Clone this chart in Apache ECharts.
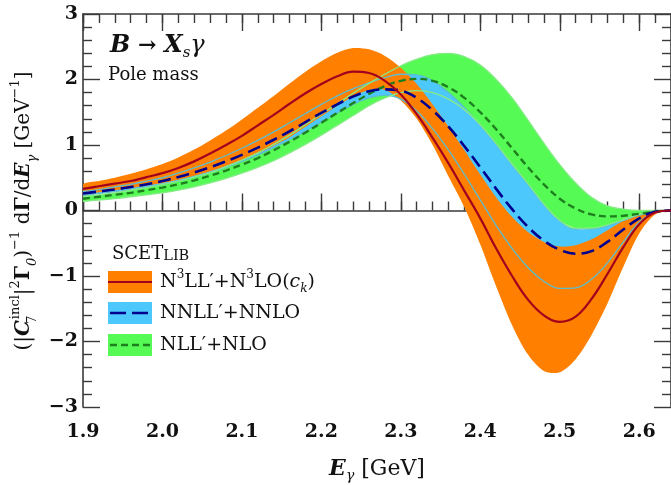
<!DOCTYPE html>
<html>
<head>
<meta charset="utf-8">
<script src="https://cdn.jsdelivr.net/npm/echarts@6/dist/echarts.min.js"></script>
<style>html,body{margin:0;padding:0;background:#fff}#c{width:671px;height:485px}</style>
</head>
<body>
<div id="c"></div>
<script>
// Photon energy grid [GeV]
const xValues = [1.90,1.92,1.94,1.96,1.98,2.00,2.02,2.04,2.06,2.08,2.10,2.12,2.14,2.16,2.18,2.20,2.22,2.24,2.26,2.28,2.30,2.32,2.34,2.36,2.38,2.40,2.42,2.44,2.46,2.48,2.50,2.52,2.54,2.56,2.58,2.60,2.62,2.64];

// N3LL'+N3LO(ck)
const n3llCentral = [0.33,0.37,0.41,0.45,0.51,0.57,0.65,0.75,0.87,1.00,1.14,1.30,1.46,1.63,1.79,1.93,2.05,2.12,2.10,1.98,1.77,1.47,1.11,0.72,0.30,-0.12,-0.58,-1.00,-1.36,-1.60,-1.70,-1.62,-1.35,-0.97,-0.56,-0.21,-0.03,0.00];
const n3llUpper   = [0.40,0.45,0.50,0.56,0.63,0.71,0.81,0.93,1.07,1.22,1.39,1.57,1.75,1.94,2.12,2.28,2.41,2.48,2.46,2.36,2.18,1.93,1.62,1.28,0.92,0.55,0.20,-0.10,-0.33,-0.48,-0.55,-0.53,-0.44,-0.30,-0.16,-0.06,-0.01,0.00];
const n3llLower   = [0.25,0.28,0.31,0.34,0.38,0.42,0.47,0.53,0.60,0.68,0.77,0.87,0.99,1.12,1.28,1.44,1.60,1.74,1.84,1.84,1.68,1.40,1.00,0.52,0.05,-0.52,-1.16,-1.75,-2.20,-2.45,-2.47,-2.27,-1.90,-1.42,-0.86,-0.35,-0.06,0.00];

// NNLL'+NNLO
const nnllCentral = [0.26,0.29,0.32,0.36,0.40,0.45,0.51,0.58,0.66,0.75,0.85,0.96,1.08,1.21,1.35,1.49,1.62,1.74,1.82,1.85,1.83,1.72,1.53,1.28,0.98,0.66,0.33,0.02,-0.25,-0.46,-0.60,-0.66,-0.62,-0.48,-0.29,-0.12,-0.02,0.00];
const nnllUpper   = [0.29,0.32,0.36,0.40,0.45,0.50,0.57,0.65,0.74,0.84,0.95,1.07,1.20,1.34,1.48,1.62,1.75,1.86,1.95,2.03,2.08,2.07,1.98,1.80,1.57,1.30,1.01,0.70,0.40,0.09,-0.16,-0.28,-0.28,-0.23,-0.15,-0.07,-0.02,0.00];
const nnllLower   = [0.23,0.26,0.29,0.32,0.36,0.40,0.45,0.51,0.58,0.66,0.75,0.85,0.96,1.08,1.21,1.35,1.49,1.62,1.72,1.76,1.70,1.52,1.25,0.92,0.55,0.16,-0.23,-0.58,-0.87,-1.08,-1.19,-1.18,-1.05,-0.80,-0.48,-0.18,-0.03,0.00];

// NLL'+NLO
const nllCentral = [0.18,0.21,0.24,0.27,0.31,0.35,0.40,0.46,0.53,0.61,0.70,0.80,0.92,1.05,1.19,1.34,1.49,1.64,1.78,1.90,1.98,2.01,1.98,1.88,1.72,1.50,1.24,0.95,0.66,0.40,0.18,0.03,-0.06,-0.09,-0.08,-0.05,-0.02,0.00];
const nllUpper   = [0.21,0.24,0.27,0.31,0.35,0.40,0.45,0.51,0.58,0.67,0.77,0.88,1.01,1.15,1.31,1.47,1.63,1.79,1.94,2.08,2.21,2.31,2.38,2.40,2.35,2.22,2.00,1.72,1.38,1.03,0.70,0.42,0.20,0.07,0.02,0.00,0.00,0.00];
const nllLower   = [0.14,0.16,0.18,0.21,0.24,0.27,0.31,0.36,0.42,0.49,0.57,0.66,0.76,0.88,1.01,1.15,1.30,1.45,1.60,1.72,1.80,1.83,1.80,1.70,1.54,1.31,1.02,0.71,0.41,0.10,-0.15,-0.27,-0.27,-0.22,-0.14,-0.06,-0.01,0.00];

const xTickLabels = ['1.9','2.0','2.1','2.2','2.3','2.4','2.5','2.6'];
const yTickLabels = ['−3','−2','−1','0','1','2','3'];

const C = {
  orange:'#FF8000', blue:'#4CC8FC', green:'#55FA55',
  red:'#A3001E', navy:'#00008E', dgreen:'#1F7F1F',
  cyanEdge:'#5CBDD0', greenEdge:'#86EB86', axis:'#3a3a3a'
};
const SERIF = "'DejaVu Serif', serif";

const pts = arr => xValues.map((x,i)=>[x, arr[i]]);

function band(lower, upper, color){
  return {
    type:'custom', clip:true, silent:true, animation:false,
    data: xValues.map((x,i)=>[x, lower[i], upper[i]]),
    encode:{x:0, y:[1,2]},
    renderItem:(params, api)=>{
      if (params.dataIndex !== 0) return null;
      const n = xValues.length;
      const top = [], bot = [];
      for (let i=0;i<n;i++) top.push(api.coord([xValues[i], upper[i]]));
      for (let i=n-1;i>=0;i--){
        if (i===n-1 && Math.abs(upper[i]-lower[i])<1e-9) continue;
        bot.push(api.coord([xValues[i], lower[i]]));
      }
      return {type:'polygon', shape:{points: top.concat(bot), smooth:0.3}, style:{fill:color, stroke:null}};
    }
  };
}
function line(arr, color, width, type){
  return {type:'line', data:pts(arr), symbol:'none', smooth:0.4, silent:true, animation:false,
          lineStyle:{color:color, width:width, type:type||'solid'}};
}

const tickStyle = {color:C.axis, width:1.4};
const xCommon = {type:'value', min:1.9, max:2.64, splitLine:{show:false}};
const yCommon = {type:'value', min:-3, max:3, interval:1, splitLine:{show:false}};

const option = {
  animation:false,
  grid:{left:83, top:14, width:590, height:393, containLabel:false},
  xAxis:[
    Object.assign({}, xCommon, {position:'bottom', interval:0.1,
      axisLine:{show:true, lineStyle:{color:C.axis, width:1.6}},
      axisTick:{inside:true, length:17, lineStyle:tickStyle},
      axisLabel:{margin:16, showMaxLabel:false, color:'#111', fontFamily:SERIF, fontWeight:'bold', fontSize:19,
        formatter:(v)=>{const k=Math.round((v-1.9)*10); return xTickLabels[k]||'';}}}),
    Object.assign({}, xCommon, {position:'bottom', interval:0.02,
      axisLine:{show:false}, axisTick:{inside:true, length:9, lineStyle:tickStyle}, axisLabel:{show:false}}),
    Object.assign({}, xCommon, {position:'top', interval:0.1,
      axisLine:{show:true, lineStyle:{color:C.axis, width:1.6}},
      axisTick:{inside:true, length:17, lineStyle:tickStyle}, axisLabel:{show:false}}),
    Object.assign({}, xCommon, {position:'top', interval:0.02,
      axisLine:{show:false}, axisTick:{inside:true, length:9, lineStyle:tickStyle}, axisLabel:{show:false}})
  ],
  yAxis:[
    Object.assign({}, yCommon, {position:'left',
      axisLine:{show:true, lineStyle:{color:C.axis, width:1.6}},
      axisTick:{inside:true, length:17, lineStyle:tickStyle},
      minorTick:{show:true, splitNumber:5, length:9, lineStyle:tickStyle},
      axisLabel:{margin:5, color:'#111', fontFamily:SERIF, fontWeight:'bold', fontSize:19, padding:[12,0,0,0],
        formatter:(v)=>yTickLabels[Math.round(v)+3]}}),
    Object.assign({}, yCommon, {position:'right',
      axisLine:{show:true, lineStyle:{color:C.axis, width:1.6}},
      axisTick:{inside:true, length:17, lineStyle:tickStyle},
      minorTick:{show:true, splitNumber:5, length:9, lineStyle:tickStyle},
      axisLabel:{show:false}})
  ],
  series:[
    band(nllLower, nllUpper, C.green),
    band(nnllLower, nnllUpper, C.blue),
    band(n3llLower, n3llUpper, C.orange),
    line(nnllUpper, C.cyanEdge, 1.3),
    line(nnllLower, C.cyanEdge, 1.3),
    line(nllUpper, C.greenEdge, 1.3),
    line(nllLower, C.greenEdge, 1.3),
    line(nllCentral, C.dgreen, 2.4, [7,4]),
    line(nnllCentral, C.navy, 2.6, [13,6]),
    line(n3llCentral, C.red, 2.2)
  ],
  graphic:[
    {type:'text', x:110, y:46, style:{
      text:'{bi|B}{b| → }{bi|X}{sub|s}{it|γ}', verticalAlign:'middle', align:'left',
      rich:{
        bi:{fontFamily:SERIF, fontStyle:'italic', fontWeight:'bold', fontSize:24, lineHeight:30, fill:'#111'},
        b:{fontFamily:SERIF, fontWeight:'bold', fontSize:22, lineHeight:30, fill:'#111'},
        it:{fontFamily:SERIF, fontStyle:'italic', fontSize:24, lineHeight:30, fill:'#111'},
        sub:{fontFamily:SERIF, fontStyle:'italic', fontSize:15, lineHeight:19, verticalAlign:'bottom', fill:'#111'}
      }}},
    {type:'text', x:108, y:75, style:{text:'Pole mass', font:"18px 'DejaVu Serif'", fill:'#111', verticalAlign:'middle'}},
    {type:'text', x:112, y:253, style:{
      text:'{a|SCET}{s|LIB}', verticalAlign:'middle',
      rich:{a:{fontFamily:SERIF, fontSize:18, fill:'#111', lineHeight:21, verticalAlign:'bottom'},
            s:{fontFamily:SERIF, fontSize:14.5, fill:'#111', lineHeight:21, verticalAlign:'bottom'}}}},
    {type:'rect', shape:{x:108, y:271, width:44, height:22}, style:{fill:C.orange}},
    {type:'line', shape:{x1:108, y1:282, x2:152, y2:282}, style:{stroke:C.red, lineWidth:2.2}},
    {type:'rect', shape:{x:108, y:302, width:44, height:22}, style:{fill:C.blue}},
    {type:'line', shape:{x1:110, y1:313, x2:152, y2:313}, style:{stroke:C.navy, lineWidth:2.6, lineDash:[16,6]}},
    {type:'rect', shape:{x:108, y:334, width:44, height:22}, style:{fill:C.green}},
    {type:'line', shape:{x1:110, y1:345, x2:152, y2:345}, style:{stroke:C.dgreen, lineWidth:2.4, lineDash:[7,4]}},
    {type:'text', x:160, y:282, style:{
      text:'{n|N}{sup|3}{n|LL′+N}{sup|3}{n|LO(}{it|c}{sub|k}{n|)}', verticalAlign:'middle',
      rich:{n:{fontFamily:SERIF, fontSize:19, lineHeight:26, fill:'#111'},
            it:{fontFamily:SERIF, fontStyle:'italic', fontSize:19, lineHeight:26, fill:'#111'},
            sup:{fontFamily:SERIF, fontSize:12, lineHeight:16, verticalAlign:'top', fill:'#111'},
            sub:{fontFamily:SERIF, fontStyle:'italic', fontSize:12, lineHeight:16, verticalAlign:'bottom', fill:'#111'}}}},
    {type:'text', x:160, y:313, style:{text:'NNLL′+NNLO', font:"19px 'DejaVu Serif'", fill:'#111', verticalAlign:'middle'}},
    {type:'text', x:160, y:345, style:{text:'NLL′+NLO', font:"19px 'DejaVu Serif'", fill:'#111', verticalAlign:'middle'}},
    {type:'text', x:377, y:469, style:{
      text:'{bi|E}{sub|γ}{n| [GeV]}', align:'center', verticalAlign:'middle',
      rich:{bi:{fontFamily:SERIF, fontStyle:'italic', fontWeight:'bold', fontSize:22, lineHeight:28, fill:'#111'},
            n:{fontFamily:SERIF, fontSize:22, lineHeight:28, fill:'#111'},
            sub:{fontFamily:SERIF, fontStyle:'italic', fontSize:14, lineHeight:18, verticalAlign:'bottom', fill:'#111'}}}},
    {type:'text', x:24, y:211, rotation:Math.PI/2, style:{
      text:'{n|(|}{bi|C}{s7|7}{sup|incl}{n||}{sup|2}{b|Γ}{sub|0}{n|)}{sup|−1}{n| d}{b|Γ}{n|/d}{bi|E}{sub|γ}{n| [GeV}{sup|−1}{n|]}',
      align:'center', verticalAlign:'middle',
      rich:{n:{fontFamily:SERIF, fontSize:20, lineHeight:30, fill:'#111'},
            b:{fontFamily:SERIF, fontWeight:'bold', fontSize:20, lineHeight:30, fill:'#111'},
            bi:{fontFamily:SERIF, fontStyle:'italic', fontWeight:'bold', fontSize:20, lineHeight:30, fill:'#111'},
            sup:{fontFamily:SERIF, fontSize:13, lineHeight:18, verticalAlign:'top', fill:'#111'},
            sub:{fontFamily:SERIF, fontStyle:'italic', fontSize:13, lineHeight:18, verticalAlign:'bottom', fill:'#111'},
            s7:{fontFamily:SERIF, fontSize:13, lineHeight:18, verticalAlign:'bottom', width:1, fill:'#111'}}}}
  ]
};
const chart = echarts.init(document.getElementById('c'), null, {renderer:'canvas'});
chart.setOption(option);
</script>
</body>
</html>
